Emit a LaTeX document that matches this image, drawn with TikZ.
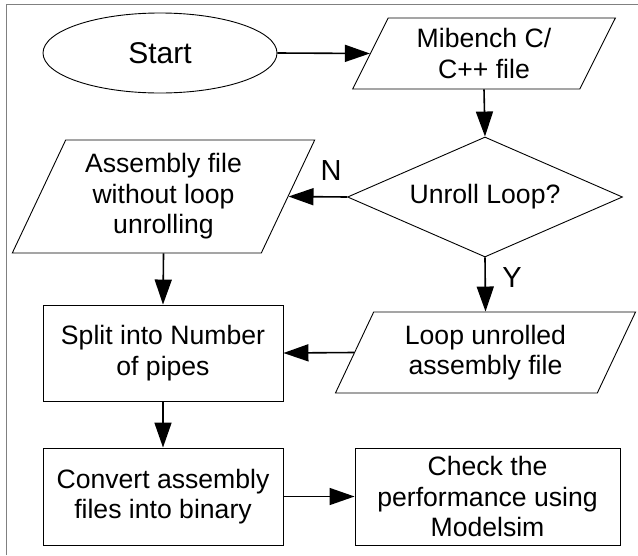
\documentclass[tikz,border=0pt]{standalone}
\usepackage{fontspec}
\setmainfont{Liberation Sans}
\usetikzlibrary{shapes.geometric,arrows.meta}
\begin{document}
\begin{tikzpicture}[x=1pt,y=-1pt,
  every node/.style={font=\fontsize{26.6}{30.5}\selectfont, align=center, inner sep=0pt},
  shp/.style={draw, line width=0.9pt},
  boxnode/.style={shp, rectangle, minimum width=240pt, minimum height=96pt},
  para/.style={shp, trapezium, trapezium left angle=63.5, trapezium right angle=116.5, trapezium stretches=true},
  arr/.style={line width=1.6pt, -{Triangle[length=25pt,width=17pt]}},
  lbl/.style={font=\fontsize{29}{30}\selectfont}]
\useasboundingbox (0,0) rectangle (638,555);
\draw[gray, line width=1pt] (6,555) -- (6,4) -- (638,4);

\node[shp, ellipse, minimum width=234pt, minimum height=80pt, font=\fontsize{30}{32}\selectfont] (start) at (160,53) {Start};
\node[para, minimum width=263pt, minimum height=71pt] (mib) at (484,53.5) {Mibench C/\\C++ file};
\node[shp, diamond, minimum width=275pt, minimum height=120pt, aspect=2.29] (dia) at (485,197) {Unroll Loop?};
\node[para, minimum width=303pt, minimum height=113pt] (asm) at (163.5,196.5) {Assembly file\\without loop\\unrolling};
\node[para, minimum width=301pt, minimum height=81pt] (loop) at (485.5,352.5) {Loop unrolled\\assembly file};
\node[boxnode] (split) at (163,353) {Split into Number\\of pipes};
\node[boxnode, minimum height=97pt] (conv) at (163,496.5) {Convert assembly\\files into binary};
\node[boxnode, minimum width=265pt, minimum height=97pt] (chk) at (487.5,496.5) {Check the\\performance using\\Modelsim};

\node[lbl] (n) at (331,171) {N};
\node[lbl] (y) at (512,278) {Y};

\draw[arr] (start.east) -- (mib.180);
\draw[arr] (mib.south) -- (dia.north);
\draw[arr] (dia.west) -- (asm.0);
\draw[arr] (dia.south) -- (loop.north);
\draw[arr] (asm.south) -- (split.north);
\draw[arr] (loop.180) -- (split.east);
\draw[arr] (split.south) -- (conv.north);
\draw[arr] (conv.east) -- (chk.west);
\end{tikzpicture}
\end{document}
